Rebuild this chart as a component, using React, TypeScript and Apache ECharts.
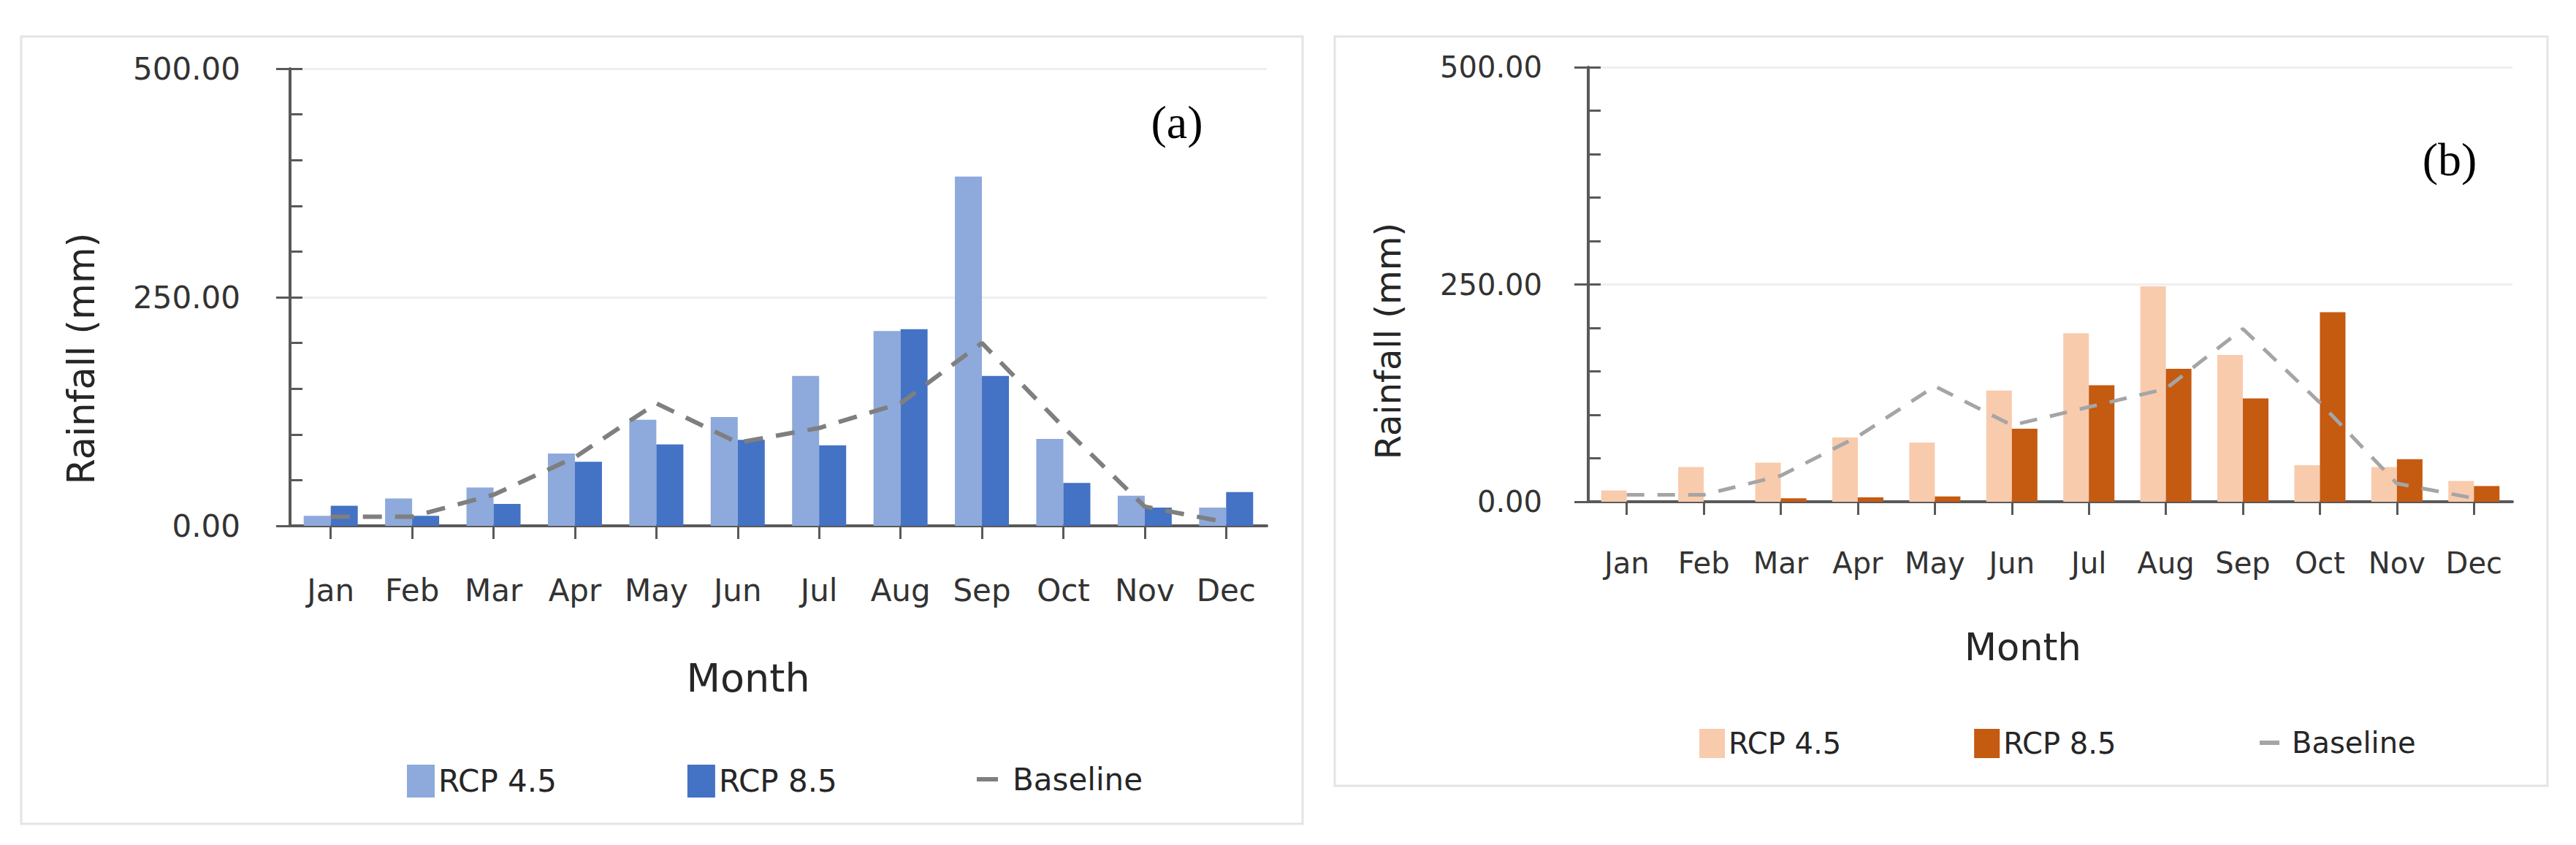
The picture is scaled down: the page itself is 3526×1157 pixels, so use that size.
import React, { useEffect, useRef } from 'react';
import * as echarts from 'echarts';

// ---------- data ----------
const months = ['Jan', 'Feb', 'Mar', 'Apr', 'May', 'Jun', 'Jul', 'Aug', 'Sep', 'Oct', 'Nov', 'Dec'];
const yTicks = [0, 250, 500];

const aRcp45 = [11, 30, 42, 79, 116, 119, 164, 213, 382, 95, 33, 20];
const aRcp85 = [22, 11, 24, 70, 89, 94, 88, 215, 164, 47, 20, 37];
const aBaseline = [10, 10, 34, 75, 134, 91, 107, 134, 200, 108, 21, 4];

const bRcp45 = [13, 40, 45, 74, 68, 128, 194, 248, 169, 42, 40, 24];
const bRcp85 = [0, 0, 4, 5, 6, 84, 134, 153, 119, 218, 49, 18];
const bBaseline = [8, 8, 30, 75, 133, 88, 109, 130, 199, 114, 21, 4];

const seriesNames = ['RCP 4.5', 'RCP 8.5', 'Baseline'];
const panelTags = ['(a)', '(b)'];
const xTitle = 'Month';
const yTitle = 'Rainfall (mm)';

// ---------- styles ----------
const FONT = 'DejaVu Sans';
const AXIS = '#595959';

type Panel = {
  rcp45: number[];
  rcp85: number[];
  baseline: number[];
  tag: string;
  light: string;
  dark: string;
  lineColor: string;
  frame: [number, number, number, number];
  grid: [number, number, number, number];
  barWidth: number;
  tickFont: number;
  yLabelMargin: number;
  xLabelMargin: number;
  legendLeft: number;
  legendTop: number;
  legendBox: [number, number];
  legendFont: number;
  legendGap: number;
  baseLegendLeft: number;
  baseLegendTop: number;
  baseLegendW: number;
  baseTextPad: number;
  monthPos: [number, number];
  monthFont: number;
  rainPos: [number, number];
  rainFont: number;
  tagPos: [number, number];
  lineWidth: number;
  dash: number[];
};

function buildOption(p: Panel) {
  const [gl, gt, gw, gh] = p.grid;
  const [fx, fy, fw, fh] = p.frame;
  return {
    animation: false,
    backgroundColor: '#ffffff',
    grid: { left: gl, top: gt, width: gw, height: gh, containLabel: false },
    xAxis: {
      type: 'category',
      data: months,
      boundaryGap: true,
      axisLine: { show: true, lineStyle: { color: AXIS, width: 4 } },
      axisTick: { show: true, alignWithLabel: true, interval: 0, length: 18, lineStyle: { color: AXIS, width: 3 } },
      axisLabel: { interval: 0, margin: p.xLabelMargin, fontSize: p.tickFont, fontFamily: FONT, color: '#333333' },
      splitLine: { show: false },
    },
    yAxis: [
      {
        type: 'value',
        position: 'left',
        min: yTicks[0],
        max: yTicks[yTicks.length - 1],
        interval: yTicks[1] - yTicks[0],
        axisLine: { show: true, lineStyle: { color: AXIS, width: 4 } },
        axisTick: { show: true, length: 19, lineStyle: { color: AXIS, width: 3 } },
        axisLabel: {
          margin: p.yLabelMargin,
          fontSize: p.tickFont,
          fontFamily: FONT,
          color: '#333333',
          formatter: (v: number) => v.toFixed(2),
        },
        splitLine: { show: true, lineStyle: { color: '#EFEFEF', width: 3 } },
      },
      {
        type: 'value',
        position: 'left',
        min: 0,
        max: 500,
        interval: 50,
        axisLine: { show: false },
        axisTick: { show: true, inside: true, length: 17, lineStyle: { color: AXIS, width: 3 } },
        axisLabel: { show: false },
        splitLine: { show: false },
      },
    ],
    legend: [
      {
        data: [seriesNames[0], seriesNames[1]],
        left: p.legendLeft,
        top: p.legendTop,
        padding: 0,
        orient: 'horizontal',
        icon: 'rect',
        itemWidth: p.legendBox[0],
        itemHeight: p.legendBox[1],
        itemGap: p.legendGap,
        textStyle: { fontSize: p.legendFont, fontFamily: FONT, color: '#262626' },
      },
      {
        data: [{ name: seriesNames[2], itemStyle: { color: p.lineColor } }],
        left: p.baseLegendLeft,
        top: p.baseLegendTop,
        padding: 0,
        icon: 'rect',
        itemWidth: p.baseLegendW,
        itemHeight: 6,
        textStyle: { fontSize: p.legendFont, fontFamily: FONT, color: '#262626', padding: [0, 0, 0, p.baseTextPad] },
      },
    ],
    graphic: [
      {
        type: 'rect',
        silent: true,
        z: -10,
        shape: { x: fx, y: fy, width: fw, height: fh },
        style: { fill: 'none', stroke: '#E4E4E4', lineWidth: 3 },
      },
      {
        type: 'text',
        x: p.monthPos[0],
        y: p.monthPos[1],
        style: { text: xTitle, fontSize: p.monthFont, fontFamily: FONT, fill: '#262626', align: 'center', verticalAlign: 'middle' },
      },
      {
        type: 'text',
        x: p.rainPos[0],
        y: p.rainPos[1],
        rotation: Math.PI / 2,
        style: { text: yTitle, fontSize: p.rainFont, fontFamily: FONT, fill: '#262626', align: 'center', verticalAlign: 'middle' },
      },
      {
        type: 'text',
        x: p.tagPos[0],
        y: p.tagPos[1],
        style: { text: p.tag, fontSize: 64, fontFamily: 'Liberation Serif', fill: '#000000', align: 'center', verticalAlign: 'middle' },
      },
    ],
    series: [
      {
        name: seriesNames[0],
        type: 'bar',
        data: p.rcp45,
        barWidth: p.barWidth,
        barGap: '0%',
        itemStyle: { color: p.light },
      },
      {
        name: seriesNames[1],
        type: 'bar',
        data: p.rcp85,
        barWidth: p.barWidth,
        barGap: '0%',
        itemStyle: { color: p.dark },
      },
      {
        name: seriesNames[2],
        type: 'line',
        data: p.baseline,
        symbol: 'none',
        showSymbol: false,
        z: 5,
        itemStyle: { color: p.lineColor },
        lineStyle: { color: p.lineColor, width: p.lineWidth, type: p.dash },
      },
    ],
  };
}

const panelA: Panel = {
  rcp45: aRcp45,
  rcp85: aRcp85,
  baseline: aBaseline,
  tag: panelTags[0],
  light: '#8EA9DB',
  dark: '#4472C4',
  lineColor: '#7F7F7F',
  frame: [29, 50, 1754, 1078],
  grid: [397, 94, 1337, 626],
  barWidth: 37,
  tickFont: 42,
  yLabelMargin: 68,
  xLabelMargin: 67,
  legendLeft: 557,
  legendTop: 1047,
  legendBox: [38, 45],
  legendFont: 42,
  legendGap: 179,
  baseLegendLeft: 1337,
  baseLegendTop: 1046,
  baseLegendW: 29,
  baseTextPad: 15,
  monthPos: [1024, 928],
  monthFont: 54,
  rainPos: [111, 491],
  rainFont: 51,
  tagPos: [1611, 167],
  lineWidth: 6,
  dash: [26, 18],
};

const panelB: Panel = {
  rcp45: bRcp45,
  rcp85: bRcp85,
  baseline: bBaseline,
  tag: panelTags[1],
  light: '#F8CBAD',
  dark: '#C55A11',
  lineColor: '#A5A5A5',
  frame: [22, 50, 1660, 1026],
  grid: [369, 92, 1265, 595],
  barWidth: 35,
  tickFont: 40,
  yLabelMargin: 63,
  xLabelMargin: 64,
  legendLeft: 521,
  legendTop: 998,
  legendBox: [35, 40],
  legendFont: 40,
  legendGap: 182,
  baseLegendLeft: 1288,
  baseLegendTop: 997,
  baseLegendW: 27,
  baseTextPad: 12,
  monthPos: [964, 886],
  monthFont: 51,
  rainPos: [95, 467],
  rainFont: 48,
  tagPos: [1548, 218],
  lineWidth: 5,
  dash: [24, 18],
};

function ChartPanel({ panel, left, width }: { panel: Panel; left: number; width: number }) {
  const ref = useRef<HTMLDivElement>(null);
  useEffect(() => {
    if (!ref.current) return;
    const chart = echarts.init(ref.current, undefined, { renderer: 'svg' });
    chart.setOption(buildOption(panel) as any);
    return () => chart.dispose();
  }, [panel]);
  return <div ref={ref} style={{ position: 'absolute', left, top: 0, width, height: 1157 }} />;
}

export default function App() {
  return (
    <div style={{ position: 'fixed', left: 0, top: 0, width: 3526, height: 1157, background: '#ffffff', overflow: 'hidden' }}>
      <ChartPanel panel={panelA} left={0} width={1805} />
      <ChartPanel panel={panelB} left={1805} width={1721} />
    </div>
  );
}
